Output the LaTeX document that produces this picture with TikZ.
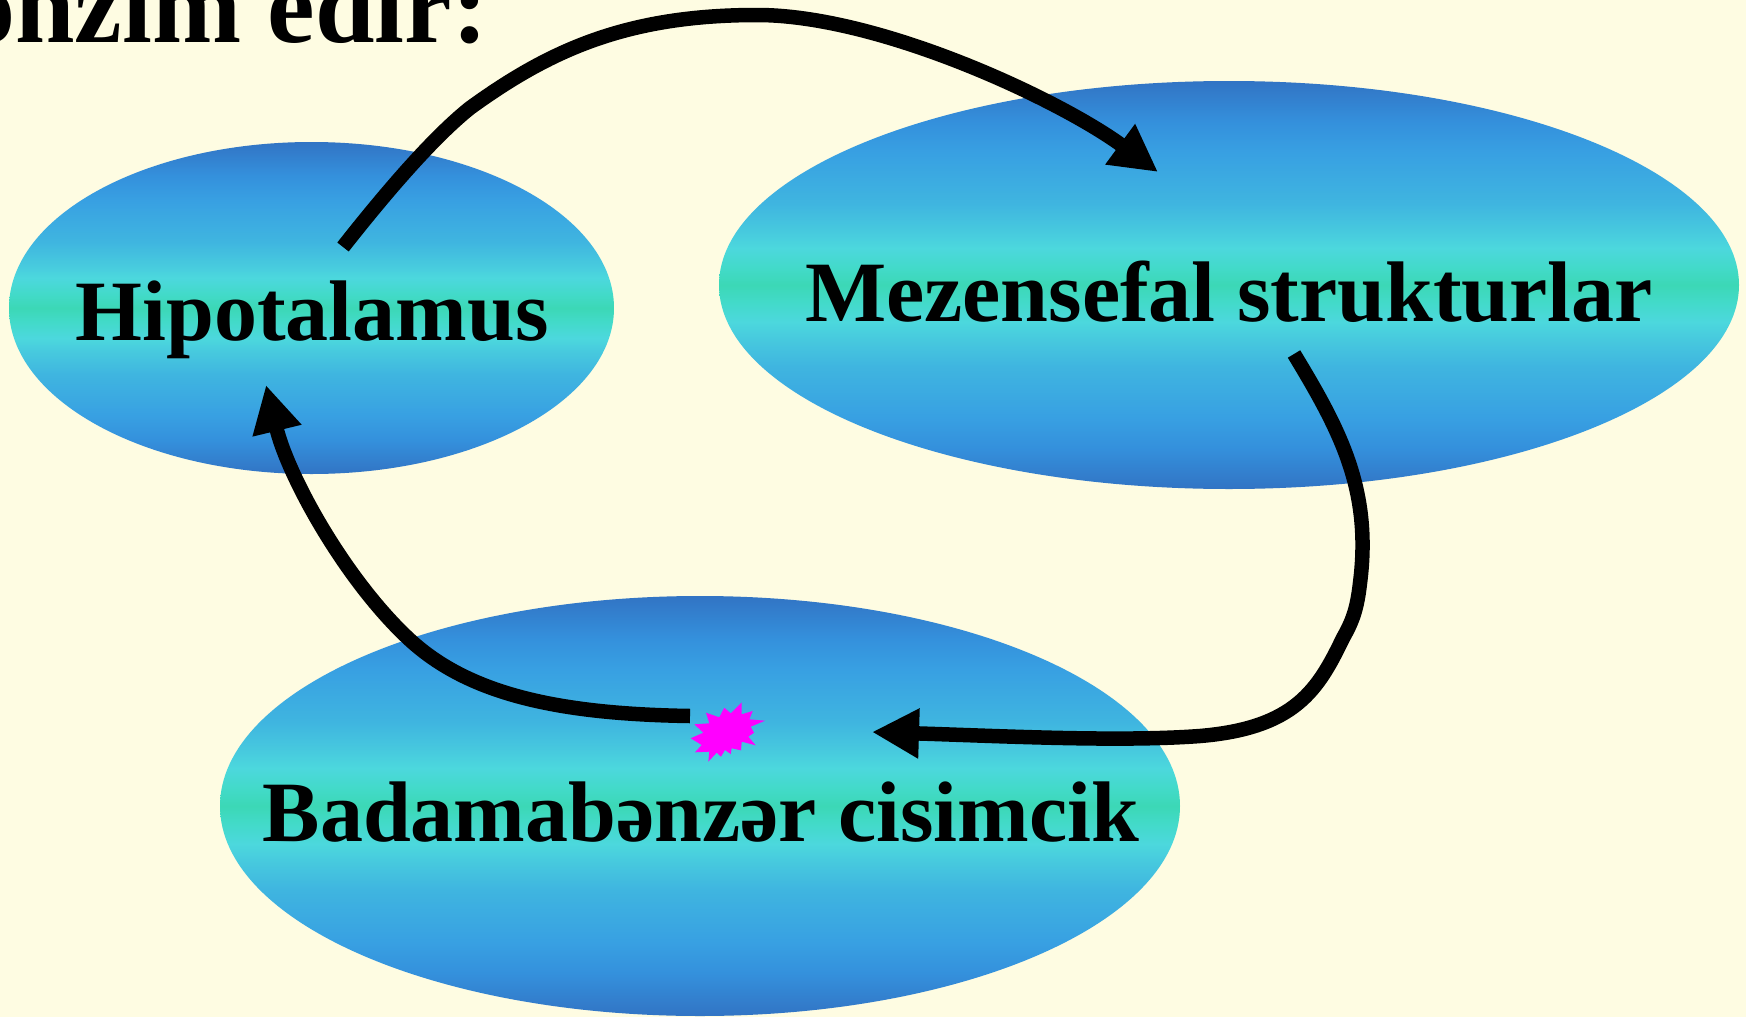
\documentclass[tikz,border=0pt]{standalone}
\usepackage{fontspec}
\setmainfont{Liberation Serif}
\usetikzlibrary{arrows.meta,shapes.geometric,calc}

\definecolor{paper}{RGB}{254,252,226}
\definecolor{ovA}{RGB}{50,116,196}
\definecolor{ovB}{RGB}{52,144,220}
\definecolor{ovC}{RGB}{56,160,226}
\definecolor{ovD}{RGB}{63,181,224}
\definecolor{ovE}{RGB}{71,202,222}
\definecolor{ovF}{RGB}{76,216,221}
\definecolor{ovG}{RGB}{66,218,200}
\definecolor{ovH}{RGB}{60,216,182}
\definecolor{burstpink}{RGB}{255,0,255}

% blue-cyan-green band shading, mirrored about the middle
\pgfdeclareverticalshading{ovalshade}{100bp}{%
  color(0bp)=(ovA); color(25bp)=(ovA); color(30bp)=(ovB);
  color(33.75bp)=(ovC); color(40bp)=(ovD); color(43.5bp)=(ovE);
  color(45.5bp)=(ovF); color(48bp)=(ovG); color(50bp)=(ovH);
  color(52bp)=(ovG); color(54.5bp)=(ovF); color(56.5bp)=(ovE);
  color(60bp)=(ovD); color(66.25bp)=(ovC); color(70bp)=(ovB);
  color(75bp)=(ovA); color(100bp)=(ovA)}

\begin{document}
\begin{tikzpicture}[x=1pt, y=-1pt,
  oval/.style={ellipse, inner sep=0pt, shading=ovalshade},
  lbl/.style={font=\fontsize{86}{100}\selectfont\bfseries, anchor=base, inner sep=0pt},
  flow/.style={line width=14.5pt, draw=black, -{Triangle[length=47pt,width=47pt]}}]

\useasboundingbox (0,0) rectangle (1746,1017);
\clip (0,0) rectangle (1746,1017);
\fill[paper] (0,0) rectangle (1746,1017);

% heading line, partly outside the frame
\node[font=\fontsize{107}{120}\selectfont\bfseries, anchor=base east, inner sep=0pt]
  (head) at (488,42) {tənzim edir:};

% the three structures
\node[oval, minimum width=605pt, minimum height=332pt] (hipo) at (311.5,308) {};
\node[oval, minimum width=1020pt, minimum height=408pt] (mezo) at (1229,285) {};
\node[oval, minimum width=960pt, minimum height=420pt] (badam) at (700,806) {};

\node[lbl] (hipoT) at (312,340) {Hipotalamus};
\node[lbl] (mezoT) at (1229,321) {Mezensefal strukturlar};
\node[lbl] (badamT) at (701,841) {Badamabənzər cisimcik};

% stimulus burst
\coordinate (burst) at (727,731);
\begin{scope}[shift={(burst)}]
  \fill[burstpink] (-36.3,7.3) -- (-23.7,1.7) -- (-32.7,-6.7) -- (-17.7,-7.7)
    -- (-21,-18.3) -- (-7.7,-13.7) -- (-2.7,-23.3) -- (3.7,-17.7)
    -- (14.7,-28.7) -- (14.7,-16.7) -- (25.7,-20) -- (22.3,-11.7)
    -- (38,-10.3) -- (23.7,-4.3) -- (27,1.7) -- (21.3,5.7)
    -- (28.7,14.3) -- (14.7,10.7) -- (14,19.3) -- (4.7,17.3)
    -- (3.7,23) -- (-2,19) -- (-6,25.7) -- (-10.3,21.7)
    -- (-18.7,30.7) -- (-17.7,20.7) -- (-32,21.3) -- (-25.3,14) -- cycle;
\end{scope}

% circuit arrows
\draw[flow] ($(hipo.center)+(31.5,-61)$)
  .. controls (380,200) and (430,140) .. (470,108)
  .. controls (550,50) and (627,15) .. (757,15)
  .. controls (880,15) and (1060,100) .. ($(mezo.center)+(-71,-113)$);

\draw[flow] ($(mezo.center)+(65,69)$)
  .. controls (1340,430) and (1372,490) .. (1360,583)
  .. controls (1357,610) and (1352,622) .. (1343,638)
  .. controls (1318,690) and (1295,728) .. (1200,736)
  .. controls (1120,742) and (1000,736) .. ($(badam.center)+(172,-74)$);

\draw[flow] ($(burst)+(-37,-15)$)
  .. controls (560,714) and (470,695) .. (410,640)
  .. controls (345,580) and (288,476) .. ($(hipo.center)+(-45.5,77)$);

\end{tikzpicture}
\end{document}
